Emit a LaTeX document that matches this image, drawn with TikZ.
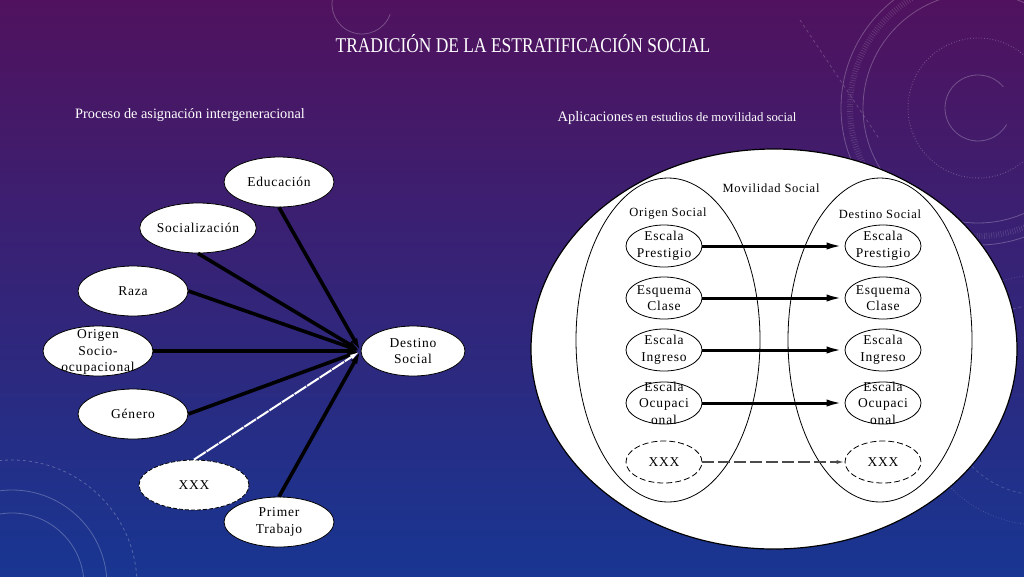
\documentclass[tikz,border=0pt]{standalone}
\usepackage{fontspec}
\usepackage{graphicx}
\setmainfont{Liberation Serif}
\newfontfamily\spaced[LetterSpace=6]{Liberation Serif}
\usetikzlibrary{shapes.geometric,arrows.meta}
\definecolor{bgtop}{RGB}{80,18,94}
\definecolor{bgmid}{RGB}{52,30,114}
\definecolor{bgbot}{RGB}{24,54,146}
\tikzset{
  deco/.style={draw=white, opacity=0.25, line width=0.8pt},
  lnode/.style={ellipse, draw=black, line width=0.8pt, fill=white,
    minimum width=110pt, minimum height=50pt, inner sep=0pt,
    font=\spaced\fontsize{13.5}{16.5}\selectfont, align=center},
  ltxt/.style={inner sep=0pt, font=\spaced\fontsize{13.5}{16.5}\selectfont, align=center},
  larr/.style={line width=3.6pt, -{Latex[length=13pt,width=7pt]}},
  sm/.style={ellipse, draw=black, line width=0.8pt, minimum width=76pt,
    minimum height=42pt, inner sep=0pt},
  smtxt/.style={inner sep=0pt, font=\spaced\fontsize{13.5}{16.5}\selectfont, align=center},
  rarr/.style={line width=3pt, -{Latex[length=18pt,width=7pt]}},
  head/.style={inner sep=0pt, text=white},
  lab/.style={inner sep=0pt, font=\spaced\fontsize{12.5}{15}\selectfont}
}
\begin{document}
\begin{tikzpicture}[x=1pt,y=-1pt]
\useasboundingbox (0,0) rectangle (1024,576);
% background
\shade[top color=bgtop, middle color=bgmid, bottom color=bgbot] (0,0) rectangle (1024,576);
\begin{scope}
\clip (0,0) rectangle (1024,576);
% decorative rings
\draw[deco] (978,108) ++(-40:33) arc[start angle=-40, end angle=-330, radius=33];
\draw[deco, dotted, line width=1pt] (978,108) circle[radius=70];
\draw[deco] (978,108) circle[radius=115];
\draw[deco] (978,108) circle[radius=137];
\draw[deco, line width=6pt, dash pattern=on 0.6pt off 1.8pt, opacity=0.16] (978,108) circle[radius=128];
\draw[deco, dashed, opacity=0.2] (800,20) -- (880,140);
\draw[deco] (362,4) ++(20:30) arc[start angle=20, end angle=200, radius=30];
\draw[deco] (12,585) circle[radius=72];
\draw[deco] (12,585) circle[radius=95];
\draw[deco, dashed] (12,585) circle[radius=125];
\draw[deco, dashed, opacity=0.18] (1040,400) circle[radius=95];
\draw[deco, dotted, opacity=0.18] (1040,400) circle[radius=125];
\end{scope}
% titles
\node[head, font=\fontsize{21}{25}\selectfont] (title) at (523,44) {\scalebox{0.83}[1]{TRADICIÓN DE LA ESTRATIFICACIÓN SOCIAL}};
\node[head, font=\fontsize{14.3}{17}\selectfont] (sub1) at (190,115) {Proceso de asignación intergeneracional};
\node[head] (sub2) at (677,118) {{\fontsize{14.5}{17}\selectfont Aplicaciones} {\fontsize{12.8}{17}\selectfont en estudios de movilidad social}};
% left diagram
\node[lnode] (edu) at (279,182) {Educación};
\node[lnode] (soc) at (198,228) {Socialización};
\node[lnode] (raza) at (133,291) {Raza};
\node[lnode] (orig) at (98,351) {};
\node[ltxt] (origt) at (98,352) {Origen\\Socio-\\ocupacional};
\node[lnode] (gen) at (133,414) {Género};
\node[lnode, dash pattern=on 4pt off 2pt] (xxx) at (194,485) {XXX};
\node[lnode] (prim) at (279,522) {Primer\\Trabajo};
\node[lnode, minimum width=104pt] (dest) at (413,351) {Destino\\Social};
\draw[larr] (edu.south) -- (dest.west);
\draw[larr] (soc.south) -- (dest.west);
\draw[larr] (raza.east) -- (dest.west);
\draw[larr] (orig.east) -- (dest.west);
\draw[larr] (gen.east) -- (dest.west);
\draw[larr] (prim.north) -- (dest.west);
\draw[white, line width=2pt, dash pattern=on 14pt off 1pt, -{Latex[length=11pt,width=5pt]}] (xxx.north) -- (dest.west);
% right diagram
\node[ellipse, draw=black, line width=1.2pt, fill=white, minimum width=486pt, minimum height=400pt, inner sep=0pt] (big) at (774,349) {};
\node[ellipse, draw=black, line width=0.8pt, minimum width=184pt, minimum height=324pt, inner sep=0pt] (oring) at (668,340) {};
\node[ellipse, draw=black, line width=0.8pt, minimum width=184pt, minimum height=324pt, inner sep=0pt] (dring) at (880,340) {};
\node[lab] (mov) at (771,188) {Movilidad Social};
\node[lab] (ors) at (668,214) {Origen Social};
\node[lab] (des) at (880,214) {Destino Social};
\foreach \n/\y/\t in {a/246/{Escala\\Prestigio}, b/298/{Esquema\\Clase}, c/350/{Escala\\Ingreso}, d/403/{Escala\\Ocupaci\\onal}} {
  \node[sm] (l\n) at (664,\y) {};
  \node[smtxt] (l\n t) at (664,\y) {\t};
  \node[sm] (r\n) at (883,\y) {};
  \node[smtxt] (r\n t) at (883,\y) {\t};
  \draw[rarr] (l\n.east) -- (r\n.west);
}
\node[sm, dash pattern=on 6pt off 3pt] (lx) at (664,462) {};
\node[smtxt] (lxt) at (664,462) {XXX};
\node[sm, dash pattern=on 6pt off 3pt] (rx) at (883,462) {};
\node[smtxt] (rxt) at (883,462) {XXX};
\draw[black!70, line width=1.4pt, dash pattern=on 12pt off 4pt, -{Latex[open,length=8pt,width=4pt]}] (lx.east) -- (rx.west);
\end{tikzpicture}
\end{document}
